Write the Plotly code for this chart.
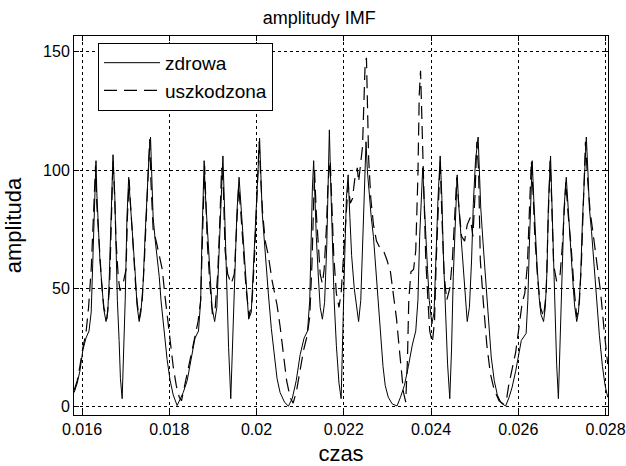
import plotly.graph_objects as go

# --- data ---
t_zdrowa = [
    0.01582, 0.01589, 0.01595, 0.01602, 0.01609, 0.01616, 0.01621, 0.01625, 0.01629, 0.01632,
    0.01634, 0.01637, 0.01639, 0.01641, 0.01646, 0.01650, 0.01655, 0.01659, 0.01662, 0.01665,
    0.01669, 0.01671, 0.01675, 0.01678, 0.01681, 0.01685, 0.01688, 0.01692, 0.01695, 0.01699,
    0.01703, 0.01707, 0.01710, 0.01712, 0.01717, 0.01722, 0.01726, 0.01731, 0.01735, 0.01740,
    0.01745, 0.01749, 0.01753, 0.01757, 0.01759, 0.01763, 0.01768, 0.01772, 0.01777, 0.01781,
    0.01788, 0.01795, 0.01802, 0.01809, 0.01818,
    0.01825, 0.01832, 0.01841, 0.01850, 0.01859, 0.01867, 0.01872, 0.01875, 0.01878, 0.01880,
    0.01882, 0.01886, 0.01889, 0.01894, 0.01898, 0.01904, 0.01909, 0.01913, 0.01918, 0.01923,
    0.01926, 0.01929, 0.01933, 0.01936, 0.01941, 0.01945, 0.01950, 0.01955, 0.01960, 0.01964,
    0.01967, 0.01972, 0.01976, 0.01982, 0.01988, 0.01992, 0.01997, 0.02002, 0.02007, 0.02010,
    0.02013, 0.02018, 0.02022, 0.02027, 0.02034, 0.02041, 0.02047, 0.02054, 0.02064, 0.02073,
    0.02082, 0.02091, 0.02100, 0.02109, 0.02117, 0.02122, 0.02125, 0.02128, 0.02131, 0.02133,
    0.02137, 0.02142, 0.02146, 0.02151, 0.02156, 0.02161, 0.02164, 0.02167, 0.02170, 0.02174,
    0.02178, 0.02183, 0.02189, 0.02194, 0.02198, 0.02202, 0.02206, 0.02210, 0.02214, 0.02218,
    0.02224, 0.02230, 0.02234, 0.02239, 0.02244, 0.02247, 0.02251, 0.02254, 0.02259, 0.02263,
    0.02268, 0.02272, 0.02278, 0.02284, 0.02290, 0.02295, 0.02302, 0.02311, 0.02322,
    0.02330, 0.02339, 0.02348, 0.02357, 0.02365, 0.02370, 0.02374, 0.02378, 0.02381, 0.02384,
    0.02387, 0.02392, 0.02396, 0.02402, 0.02407, 0.02411, 0.02416, 0.02421, 0.02425, 0.02428,
    0.02433, 0.02438, 0.02443, 0.02447, 0.02451, 0.02456, 0.02460, 0.02464, 0.02469, 0.02474,
    0.02479, 0.02483, 0.02488, 0.02493, 0.02497, 0.02502, 0.02508, 0.02511, 0.02514, 0.02519,
    0.02525, 0.02532, 0.02538, 0.02545, 0.02552, 0.02561, 0.02571,
    0.02579, 0.02586, 0.02594, 0.02601, 0.02607, 0.02618, 0.02622, 0.02626, 0.02629, 0.02632,
    0.02635, 0.02638, 0.02643, 0.02648, 0.02652, 0.02658, 0.02662, 0.02666, 0.02669, 0.02674,
    0.02677, 0.02681, 0.02684, 0.02688, 0.02692, 0.02696, 0.02700, 0.02705, 0.02710, 0.02714,
    0.02719, 0.02724, 0.02729, 0.02734, 0.02738, 0.02743, 0.02747, 0.02752, 0.02756, 0.02760,
    0.02763, 0.02768, 0.02773, 0.02779, 0.02786, 0.02793, 0.02799, 0.02805,
]
a_zdrowa = [
    6, 10, 15, 24, 29, 32, 40, 66, 88, 104,
    90, 81, 70, 62, 48, 41, 36, 40, 52, 70,
    95, 106.5, 90, 66, 45, 28, 12, 3.4, 20, 45,
    80, 97, 88, 83, 70, 56, 43, 36, 40, 52,
    74, 92, 104, 114, 100, 80, 70, 64, 55, 45,
    32, 20, 11, 5, 0.5,
    3, 6, 11, 20, 29, 32, 45, 72, 92, 104,
    92, 80, 66, 52, 42, 36, 42, 60, 85, 106,
    88, 66, 45, 25, 3.4, 25, 55, 82, 97, 86,
    78, 64, 50, 37, 40, 55, 74, 96, 113.5, 98,
    82, 70, 58, 48, 33, 21, 12, 6, 2, 0.2,
    3.5, 11, 22, 29, 32, 45, 70, 92, 104, 90,
    72, 54, 42, 37, 44, 68, 98, 117, 95, 70,
    45, 26, 10, 3.4, 28, 62, 88, 98, 80, 64,
    50, 40, 36, 45, 72, 96, 112, 100, 88, 80,
    72, 62, 45, 29, 17, 9, 4, 1.2, 0.3,
    4, 9, 17, 26, 32, 45, 72, 92, 101, 88,
    75, 58, 45, 35, 40, 62, 88, 106, 88, 66,
    40, 18, 3.4, 24, 55, 84, 98, 84, 72, 56,
    44, 36, 42, 62, 86, 104, 114, 98, 84, 70,
    55, 36, 21, 11, 5, 1.5, 0.3,
    4, 8.3, 15, 22.5, 28, 31, 45, 72, 94, 104,
    90, 76, 60, 46, 39, 36, 42, 58, 85, 106,
    86, 62, 40, 18, 3.4, 26, 56, 84, 97, 84,
    72, 56, 43, 36, 40, 55, 78, 100, 114, 98,
    84, 74, 62, 45, 30, 17, 9, 4,
]

t_uszkodzona = [
    0.01582, 0.01589, 0.01595, 0.01602, 0.01609, 0.01615, 0.01621, 0.01626, 0.01631, 0.01634,
    0.01639, 0.01645, 0.01650, 0.01657, 0.01663, 0.01668, 0.01671, 0.01675, 0.01678, 0.01683,
    0.01687, 0.01694, 0.01701, 0.01704, 0.01708, 0.01711, 0.01717, 0.01724, 0.01731, 0.01738,
    0.01743, 0.01749, 0.01755, 0.01758, 0.01763, 0.01770, 0.01777, 0.01784, 0.01790, 0.01797,
    0.01803, 0.01809, 0.01816, 0.01823, 0.01828,
    0.01834, 0.01842, 0.01850, 0.01858, 0.01866, 0.01872, 0.01875, 0.01878, 0.01881, 0.01884,
    0.01887, 0.01893, 0.01899, 0.01905, 0.01911, 0.01916, 0.01920, 0.01924, 0.01928, 0.01934,
    0.01942, 0.01949, 0.01955, 0.01959, 0.01964, 0.01969, 0.01976, 0.01983, 0.01990, 0.01996,
    0.02000, 0.02006, 0.02010, 0.02014, 0.02020, 0.02027, 0.02036, 0.02047, 0.02054, 0.02061,
    0.02069, 0.02077, 0.02084,
    0.02092, 0.02100, 0.02108, 0.02116, 0.02122, 0.02127, 0.02130, 0.02133, 0.02137, 0.02142,
    0.02146, 0.02151, 0.02155, 0.02160, 0.02164, 0.02169, 0.02172, 0.02177, 0.02183, 0.02189,
    0.02194, 0.02200, 0.02206, 0.02210, 0.02215, 0.02220, 0.02225, 0.02231, 0.02234, 0.02238,
    0.02243, 0.02246, 0.02249, 0.02252, 0.02254, 0.02257, 0.02262, 0.02268, 0.02275, 0.02283,
    0.02291, 0.02299, 0.02307, 0.02314, 0.02321, 0.02326, 0.02332, 0.02337, 0.02342,
    0.02346, 0.02349, 0.02354, 0.02360, 0.02365, 0.02370, 0.02373, 0.02376, 0.02379, 0.02384,
    0.02388, 0.02393, 0.02397, 0.02403, 0.02408, 0.02412, 0.02417, 0.02421, 0.02425, 0.02430,
    0.02436, 0.02443, 0.02449, 0.02455, 0.02459, 0.02464, 0.02470, 0.02477, 0.02483, 0.02490,
    0.02496, 0.02501, 0.02505, 0.02509, 0.02513, 0.02520, 0.02528, 0.02536, 0.02545, 0.02556,
    0.02566, 0.02573,
    0.02578, 0.02586, 0.02594, 0.02602, 0.02609, 0.02615, 0.02621, 0.02626, 0.02630, 0.02634,
    0.02638, 0.02644, 0.02651, 0.02658, 0.02664, 0.02668, 0.02673, 0.02676, 0.02681, 0.02688,
    0.02696, 0.02701, 0.02706, 0.02709, 0.02714, 0.02721, 0.02728, 0.02734, 0.02740, 0.02745,
    0.02750, 0.02754, 0.02759, 0.02765, 0.02771, 0.02781, 0.02789, 0.02797, 0.02805,
]
a_uszkodzona = [
    7, 11, 17, 25, 31, 42, 58, 80, 102, 85,
    68, 52, 42, 37, 50, 80, 104, 88, 70, 55,
    49, 52, 58, 80, 96, 86, 66, 48, 37, 45,
    62, 88, 113, 95, 75, 70, 64, 58, 47, 36,
    26, 17, 9, 4, 2.5,
    8, 15, 22, 29, 36, 45, 68, 90, 102, 86,
    70, 52, 39, 41, 56, 79, 101, 92, 66, 56,
    52, 56, 75, 93, 82, 68, 50, 38, 45, 66,
    88, 112, 95, 82, 70, 64, 53, 43, 34, 22,
    11, 4, 1.5,
    7, 15, 24, 30, 38, 60, 85, 100, 82, 66,
    56, 52, 58, 75, 95, 104, 85, 64, 48, 42,
    48, 64, 84, 94, 86, 88, 96, 101, 95, 103,
    110, 128, 145, 147.5, 130, 105, 88, 77, 70, 67,
    66, 62, 57, 48, 37, 27, 15, 6, 2,
    20, 45, 57, 58, 66, 98, 132, 142, 122, 90,
    62, 45, 32, 27, 36, 62, 90, 104, 80, 56,
    45, 50, 62, 84, 97, 84, 72, 70, 77, 80,
    72, 90, 112, 100, 62, 44, 26, 14, 7, 2.5,
    1.2, 3,
    9, 16, 23, 34, 44, 48, 60, 85, 104, 90,
    72, 55, 42, 38, 48, 76, 104, 90, 60, 53,
    56, 68, 88, 95, 82, 68, 50, 38, 44, 62,
    90, 112, 96, 82, 74, 59, 48, 32, 18,
]

x_ticks = [0.016, 0.018, 0.020, 0.022, 0.024, 0.026, 0.028]
x_tick_labels = ["0.016", "0.018", "0.02", "0.022", "0.024", "0.026", "0.028"]
y_ticks = [0, 50, 100, 150]
y_tick_labels = ["0", "50", "100", "150"]

FONT = "Liberation Sans, Arial, sans-serif"

fig = go.Figure()
fig.add_trace(go.Scatter(
    x=t_zdrowa, y=a_zdrowa, mode="lines", name="zdrowa",
    line=dict(color="black", width=1),
))
fig.add_trace(go.Scatter(
    x=t_uszkodzona, y=a_uszkodzona, mode="lines", name="uszkodzona",
    line=dict(color="black", width=1.2, dash="13px,7px"),
))

axis_common = dict(
    showline=True, linecolor="black", linewidth=1, mirror="ticks",
    ticks="inside", ticklen=5, tickcolor="black", tickwidth=1,
    showgrid=True, gridcolor="black", gridwidth=1, griddash="3px,3px",
    zeroline=False, automargin=False,
    tickfont=dict(family=FONT, size=16, color="black"),
)

fig.update_layout(
    width=626, height=466,
    margin=dict(l=74, r=18, t=36, b=51),
    paper_bgcolor="white", plot_bgcolor="white",
    title=dict(text="amplitudy IMF", x=0.51, xanchor="center", y=0.975, yanchor="top",
               font=dict(family=FONT, size=18, color="black")),
    xaxis=dict(range=[0.015816, 0.028057], tickvals=x_ticks, ticktext=x_tick_labels,
               title=dict(text="czas", font=dict(family=FONT, size=22, color="black")),
               **axis_common),
    yaxis=dict(range=[-3.5, 156.7], tickvals=y_ticks, ticktext=y_tick_labels,
               title=dict(text="amplituda", font=dict(family=FONT, size=22, color="black")),
               **axis_common),
    legend=dict(x=0.045, y=0.982, xanchor="left", yanchor="top",
                bgcolor="white", bordercolor="black", borderwidth=1,
                font=dict(family=FONT, size=19, color="black"),
                tracegroupgap=0, itemwidth=56),
    showlegend=True,
)

fig.write_html("out.html", config={"displayModeBar": False},
               post_script="document.body.style.margin='0';")
